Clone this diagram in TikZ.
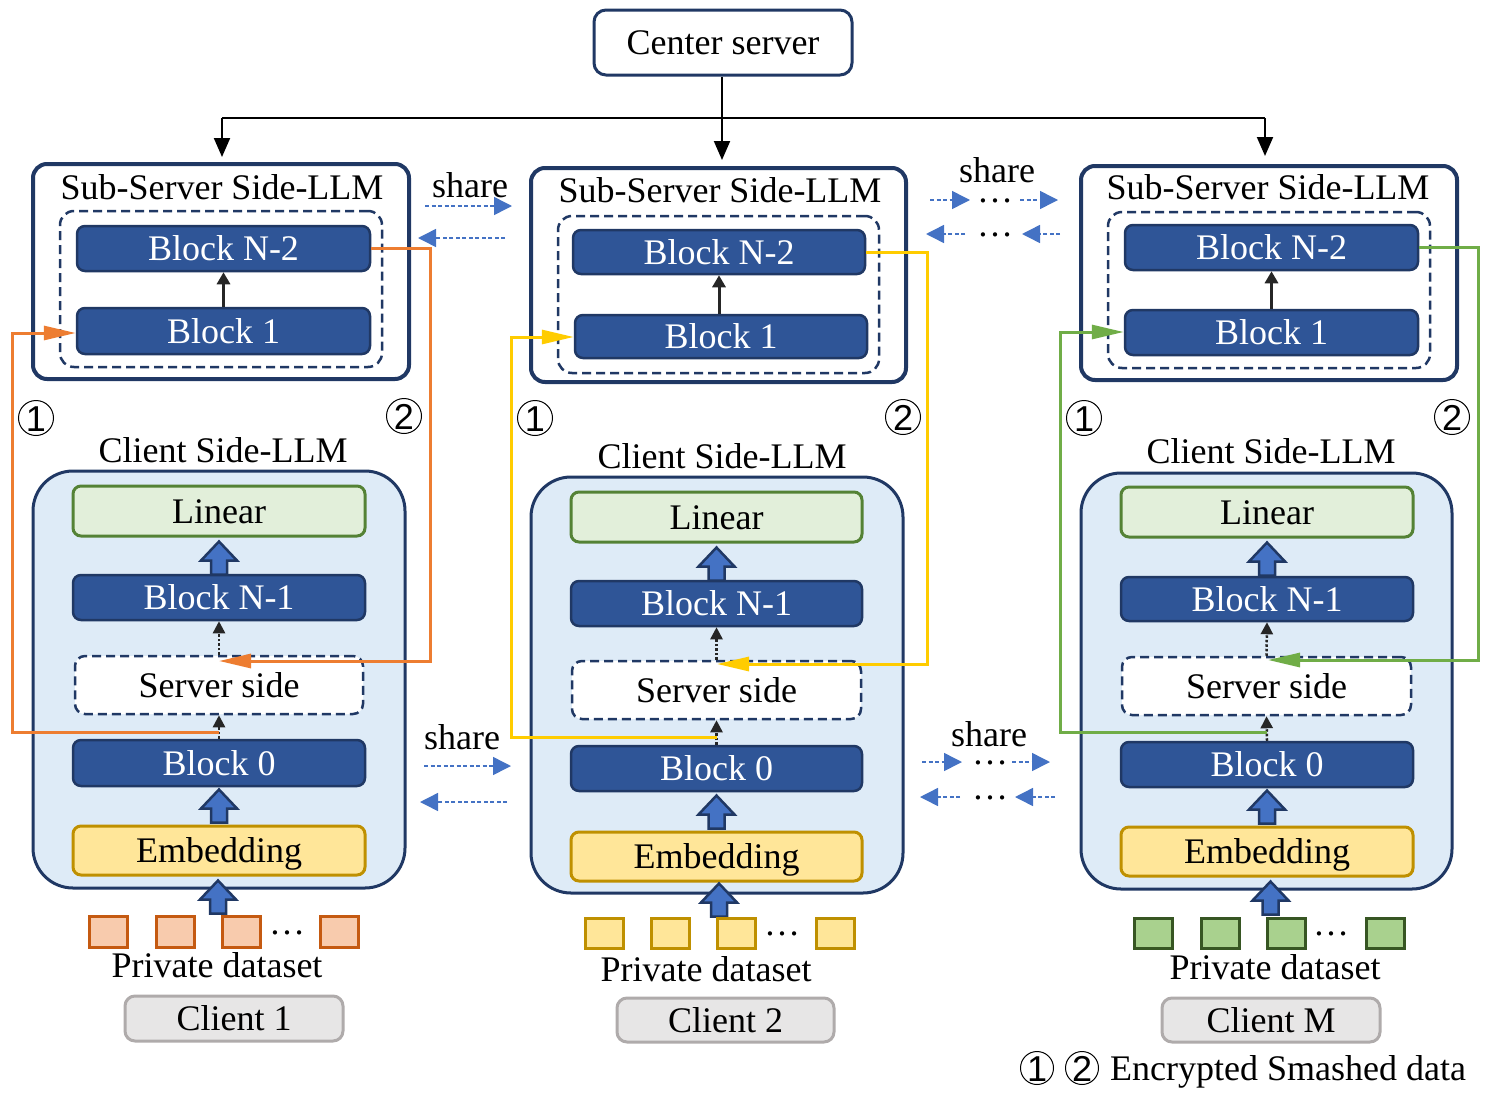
\documentclass[tikz,border=0pt]{standalone}
\usepackage{fontspec}
\setmainfont{Liberation Serif}
\newfontfamily\circfont{Liberation Sans}
\usetikzlibrary{arrows.meta}
\definecolor{navy}{HTML}{203864}
\definecolor{blockfill}{HTML}{2F5597}
\definecolor{clientfill}{HTML}{DEEBF7}
\definecolor{linfill}{HTML}{E2EFDA}
\definecolor{linborder}{HTML}{548235}
\definecolor{embfill}{HTML}{FFE699}
\definecolor{embborder}{HTML}{BF9000}
\definecolor{orangeL}{HTML}{ED7D31}
\definecolor{yellowL}{HTML}{FFCC00}
\definecolor{greenL}{HTML}{70AD47}
\definecolor{blueA}{HTML}{4472C4}
\definecolor{grayfill}{HTML}{E7E6E6}
\definecolor{grayborder}{HTML}{AFABAB}
\definecolor{sqOfill}{HTML}{F8CBAD}
\definecolor{sqOborder}{HTML}{C55A11}
\definecolor{sqYfill}{HTML}{FFE699}
\definecolor{sqYborder}{HTML}{BF9000}
\definecolor{sqGfill}{HTML}{A9D18E}
\definecolor{sqGborder}{HTML}{375623}
\tikzset{
  txt/.style={font=\fontsize{36}{40}\selectfont, inner sep=0pt, text height=24pt, text depth=0pt},
  dotstxt/.style={font=\fontsize{36}{40}\selectfont, inner sep=0pt, text height=4pt, text depth=0pt},
  circ/.style={circle, draw=black, line width=1pt, minimum size=35pt, inner sep=0pt, font=\circfont\fontsize{36}{40}\selectfont, text height=26pt, text depth=0pt},
  subsrv/.style={draw=navy, line width=4pt, rounded corners=14pt, fill=white, inner sep=0pt},
  dbox/.style={draw=navy, line width=2.5pt, dash pattern=on 9pt off 5pt, rounded corners=14pt, inner sep=0pt},
  blk/.style={txt, draw=navy, line width=2.5pt, fill=blockfill, rounded corners=8pt, text=white, minimum width=292pt, minimum height=45pt},
  client/.style={draw=navy, line width=3pt, fill=clientfill, rounded corners=40pt, inner sep=0pt},
  linbox/.style={txt, draw=linborder, line width=3pt, fill=linfill, rounded corners=8pt, minimum width=292pt, minimum height=50pt},
  embbox/.style={txt, draw=embborder, line width=3pt, fill=embfill, rounded corners=8pt, minimum width=292pt, minimum height=49pt},
  ssbox/.style={txt, draw=navy, line width=2.5pt, dash pattern=on 9pt off 5pt, fill=white, rounded corners=10pt, minimum width=289pt, minimum height=58pt},
  cbox/.style={txt, draw=grayborder, line width=3pt, fill=grayfill, rounded corners=10pt, minimum width=218pt, minimum height=45pt},
  sqO/.style={draw=sqOborder, fill=sqOfill, line width=3pt, minimum width=38pt, minimum height=31pt, inner sep=0pt},
  sqY/.style={draw=sqYborder, fill=sqYfill, line width=3pt, minimum width=38pt, minimum height=30pt, inner sep=0pt},
  sqG/.style={draw=sqGborder, fill=sqGfill, line width=3pt, minimum width=38pt, minimum height=30pt, inner sep=0pt},
  solidarr/.style={draw=black!85, line width=3pt, -{Triangle[length=12pt,width=13pt]}},
  dotarr/.style={draw=black!85, line width=2.5pt, dotted, -{Triangle[length=12pt,width=12pt]}},
  toparr/.style={draw=black, line width=2pt, -{Triangle[length=19pt,width=16pt]}},
  loopO/.style={draw=orangeL, line width=3pt, -{Triangle[length=32pt,width=14pt]}},
  loopY/.style={draw=yellowL, line width=3pt, -{Triangle[length=32pt,width=14pt]}},
  loopG/.style={draw=greenL, line width=3pt, -{Triangle[length=32pt,width=14pt]}},
  sharearr/.style={draw=blueA, line width=1.5pt, dash pattern=on 4pt off 2.5pt, -{Triangle[length=18pt,width=18pt]}},
  fatup/.pic={\draw[draw=navy, fill=blueA, line width=2.5pt, line join=miter] (-8,0) -- (-8,-14) -- (-18,-14) -- (0,-33) -- (18,-14) -- (8,-14) -- (8,0) -- cycle;}
}
\begin{document}
\begin{tikzpicture}[x=1pt,y=-1pt]
\useasboundingbox (0,0) rectangle (1496,1100);

% ---------- Center server ----------
\node[txt, draw=navy, line width=3pt, rounded corners=12pt, minimum width=258pt, minimum height=65pt] (cs) at (723,42.5) {Center server};

% ---------- Sub servers ----------
\node[subsrv, minimum width=376pt, minimum height=215pt] (sub1) at (221,271.5) {};
\node[txt] (sub1t) at (222,187) {Sub-Server Side-LLM};
\node[dbox, minimum width=322pt, minimum height=156pt] (d1) at (221,289) {};
\node[blk, minimum width=293pt] (s1n2) at (223.5,248.5) {Block N-2};
\node[blk, minimum width=293pt, minimum height=46pt] (s1b1) at (223.5,331) {Block 1};

\node[subsrv, minimum width=375pt, minimum height=214pt] (sub2) at (718.5,275) {};
\node[txt] (sub2t) at (720,190) {Sub-Server Side-LLM};
\node[dbox, minimum width=321pt, minimum height=157pt] (d2) at (718.5,294.5) {};
\node[blk, minimum height=44pt] (s2n2) at (719,252) {Block N-2};
\node[blk, minimum height=43pt] (s2b1) at (721,336.5) {Block 1};

\node[subsrv, minimum width=376pt, minimum height=214pt] (sub3) at (1269,273) {};
\node[txt] (sub3t) at (1268,187) {Sub-Server Side-LLM};
\node[dbox, minimum width=322pt, minimum height=156pt] (d3) at (1269,290) {};
\node[blk, minimum width=293pt] (s3n2) at (1271.5,247.5) {Block N-2};
\node[blk, minimum width=293pt] (s3b1) at (1271.5,332.5) {Block 1};

\draw[solidarr] (s1b1.north) -- (s1n2.south);
\draw[solidarr] (s2b1.north -| s2n2.south) -- (s2n2.south);
\draw[solidarr] (s3b1.north) -- (s3n2.south);

% ---------- Center connectors ----------
\coordinate (hl) at (222,118);
\coordinate (hr) at (1265,118);
\draw[line width=2pt] (hl) -- (hr);
\draw[toparr, shorten >=6pt] (cs.south -| 722,0) -- (sub2.north -| 722,0);
\draw[toparr, shorten >=5pt] (hl) -- (sub1.north -| hl);
\draw[toparr, shorten >=8pt] (hr) -- (sub3.north -| hr);

% ---------- Clients ----------
\node[txt] (c1t) at (223,450) {Client Side-LLM};
\node[client, minimum width=372pt, minimum height=417pt] (c1) at (219,679.5) {};
\node[linbox] (l1) at (219,511) {Linear};
\node[blk] (n1) at (219,597.5) {Block N-1};
\node[ssbox, minimum width=288pt] (ss1) at (219,685) {Server side};
\node[blk, minimum height=46pt] (b1) at (219,763) {Block 0};
\node[embbox] (e1) at (219,850.5) {Embedding};

\node[txt] (c2t) at (722,456) {Client Side-LLM};
\node[client, minimum width=372pt, minimum height=416pt] (c2) at (717,685) {};
\node[linbox, minimum width=291pt] (l2) at (716.5,517) {Linear};
\node[blk, minimum width=291pt] (n2) at (716.5,603.5) {Block N-1};
\node[ssbox] (ss2) at (716.5,690) {Server side};
\node[blk, minimum width=291pt] (b2) at (716.5,768.5) {Block 0};
\node[embbox, minimum width=291pt] (e2) at (716.5,856.5) {Embedding};

\node[txt] (c3t) at (1271,451) {Client Side-LLM};
\node[client, minimum width=371pt, minimum height=416pt] (c3) at (1266.5,681) {};
\node[linbox] (l3) at (1267,512) {Linear};
\node[blk, minimum height=44pt] (n3) at (1267,599) {Block N-1};
\node[ssbox] (ss3) at (1266.5,686) {Server side};
\node[blk] (b3) at (1267,764.5) {Block 0};
\node[embbox] (e3) at (1267,851.5) {Embedding};

% dotted arrows
\draw[dotarr] (b1.north) -- (ss1.south);
\draw[dotarr] (ss1.north) -- (n1.south);
\draw[dotarr] (b2.north) -- (ss2.south);
\draw[dotarr] (ss2.north) -- (n2.south);
\draw[dotarr] (b3.north) -- (ss3.south);
\draw[dotarr] (ss3.north) -- (n3.south);

% fat arrows
\path (e1.north) ++(0,-2) pic {fatup};
\path (l1.south) ++(0,37) pic {fatup};
\path (c1.south) ++(-1,24) pic {fatup};
\path (e2.north) ++(0,-2) pic {fatup};
\path (l2.south) ++(0,37) pic {fatup};
\path (c2.south) ++(2,22) pic {fatup};
\path (e3.north) ++(0,-2) pic {fatup};
\path (l3.south) ++(0,37) pic {fatup};
\path (c3.south) ++(4,24) pic {fatup};

% ---------- Colored loops ----------
\coordinate (o1s) at (219,732);
\draw[loopO] (o1s) -| (12,333) -- (s1b1.west |- 0,333);
\draw[loopO] (s1n2.east) -| (430,661) -- (219,661);
\coordinate (y1s) at (717,737);
\draw[loopY] (y1s) -| (511,337) -- (s2b1.west |- 0,337);
\draw[loopY] (s2n2.east) -| (927,664) -- (717,664);
\coordinate (g1s) at (1267,732);
\draw[loopG] (g1s) -| (1060,332) -- (s3b1.west |- 0,332);
\draw[loopG] (s3n2.east) -| (1478,660) -- (1268,660);

% circled numbers
\node[circ] (k11) at (36,418) {1};
\node[circ] (k12) at (404,416) {2};
\node[circ] (k21) at (535,418) {1};
\node[circ] (k22) at (903,417) {2};
\node[circ] (k31) at (1084,418) {1};
\node[circ] (k32) at (1452,417) {2};

% ---------- Datasets ----------
\node[sqO] (q11) at (108,932) {};
\node[sqO] (q12) at (175,932) {};
\node[sqO] (q13) at (241,932) {};
\node[sqO] (q14) at (339,932) {};
\node[dotstxt] (q1d) at (287,932) {\dots};
\node[txt] (pd1) at (217,965) {Private dataset};
\node[cbox] (cl1) at (234,1018.5) {Client 1};

\node[sqY] (q21) at (604,933) {};
\node[sqY] (q22) at (670,933) {};
\node[sqY] (q23) at (736,933) {};
\node[sqY] (q24) at (835,933) {};
\node[dotstxt] (q2d) at (782,933) {\dots};
\node[txt] (pd2) at (706,969) {Private dataset};
\node[cbox, minimum width=217pt, minimum height=44pt] (cl2) at (725.5,1020) {Client 2};

\node[sqG] (q31) at (1153,933) {};
\node[sqG] (q32) at (1220,933) {};
\node[sqG] (q33) at (1286,933) {};
\node[sqG] (q34) at (1385,933) {};
\node[dotstxt] (q3d) at (1331,933) {\dots};
\node[txt] (pd3) at (1275,967) {Private dataset};
\node[cbox, minimum height=44pt] (cl3) at (1271,1020) {Client M};

% legend
\node[circ, minimum size=33pt] (lg1) at (1037,1068) {1};
\node[circ, minimum size=33pt] (lg2) at (1082,1068) {2};
\node[txt, anchor=west] (lgt) at (1110,1068) {Encrypted Smashed data};

% ---------- Share arrows ----------
\node[txt] (sh1) at (470,185) {share};
\coordinate (a1a) at (425,206); \coordinate (a1b) at (512,206);
\coordinate (a1c) at (505,238); \coordinate (a1d) at (418,238);
\draw[sharearr] (a1a) -- (a1b);
\draw[sharearr] (a1c) -- (a1d);

\node[txt] (sh2) at (997,170) {share};
\coordinate (a2a) at (930,200); \coordinate (a2b) at (970,200);
\coordinate (a2c) at (1020,200); \coordinate (a2d) at (1058,200);
\coordinate (a2e) at (965,234); \coordinate (a2f) at (926,234);
\coordinate (a2g) at (1060,234); \coordinate (a2h) at (1022,234);
\draw[sharearr] (a2a) -- (a2b);
\draw[sharearr] (a2c) -- (a2d);
\draw[sharearr] (a2e) -- (a2f);
\draw[sharearr] (a2g) -- (a2h);
\node[dotstxt] (dd1) at (995,200) {\dots};
\node[dotstxt] (dd2) at (995,234) {\dots};

\node[txt] (sh3) at (462,737) {share};
\coordinate (a3a) at (424,766); \coordinate (a3b) at (511,766);
\coordinate (a3c) at (507,802); \coordinate (a3d) at (420,802);
\draw[sharearr] (a3a) -- (a3b);
\draw[sharearr] (a3c) -- (a3d);

\node[txt] (sh4) at (989,734) {share};
\coordinate (a4a) at (922,762); \coordinate (a4b) at (962,762);
\coordinate (a4c) at (1012,762); \coordinate (a4d) at (1050,762);
\coordinate (a4e) at (960,797); \coordinate (a4f) at (920,797);
\coordinate (a4g) at (1055,797); \coordinate (a4h) at (1015,797);
\draw[sharearr] (a4a) -- (a4b);
\draw[sharearr] (a4c) -- (a4d);
\draw[sharearr] (a4e) -- (a4f);
\draw[sharearr] (a4g) -- (a4h);
\node[dotstxt] (dd3) at (990,762) {\dots};
\node[dotstxt] (dd4) at (990,797) {\dots};
\end{tikzpicture}
\end{document}
